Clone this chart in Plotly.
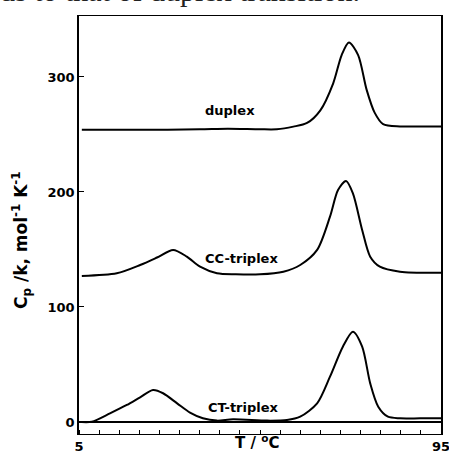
import plotly.graph_objects as go

# ---- data ----
duplex_T = [5.7, 20, 35, 42, 50, 54.2, 58.3, 61.7, 65.0, 68.2, 70.3, 72.1, 74.4, 76.5, 78.5, 80.6, 84.8, 90, 95]
duplex_Cp = [254, 254, 254.5, 255, 254.5, 254.5, 256.8, 260, 271, 294.5, 319, 330, 319, 289, 269, 259, 257, 257, 257]

cc_T = [5.7, 14.4, 20.2, 24.4, 28.4, 31.8, 35.1, 39.3, 44, 50, 55.8, 60.0, 64.2, 67.4, 69.4, 71.4, 73.1, 75.4, 77.4, 79.8, 84.8, 95]
cc_Cp = [127, 129.3, 136.5, 143, 149.6, 143.8, 135, 129.3, 128.4, 128.4, 130.7, 136.5, 149.6, 178.5, 201.7, 209.6, 198.8, 167, 143.7, 135, 130.7, 129.8]

ct_T = [5.7, 8.2, 12.7, 16.9, 20.2, 23.4, 25.9, 29.4, 32.6, 35.8, 39.3, 43.3, 51.7, 56.7, 60.0, 64.2, 67.4, 70.6, 73.1, 75.4, 77.4, 79.4, 81.8, 84.8, 89.8, 95]
ct_Cp = [0, 0.3, 7.5, 14.8, 21.5, 27.8, 25, 16.2, 8.1, 3.2, 1.2, 2.3, 1.2, 1.7, 4.6, 16.2, 39.4, 65.5, 78.5, 65.5, 33.6, 13.3, 4.6, 3.2, 3.2, 3.2]

curve_names = ["duplex", "CC-triplex", "CT-triplex"]
label_T = [42.5, 45.5, 46.0]
label_Cp = [271, 142, 13]

y_tick_vals = [0, 100, 200, 300]
y_tick_text = ["0", "100", "200", "300"]
x_tick_vals = [5, 95]
x_tick_text = ["5", "95"]

W, H = 449, 458
L, R, T, B = 79, 8, 16, 24
pw, ph = W - L - R, H - T - B

def px(xp):
    return (xp - L) / pw

def py(yp):
    return (H - B - yp) / ph

fig = go.Figure()
for tx, cy, nm in [(duplex_T, duplex_Cp, curve_names[0]),
                   (cc_T, cc_Cp, curve_names[1]),
                   (ct_T, ct_Cp, curve_names[2])]:
    fig.add_trace(go.Scatter(x=tx, y=cy, mode="lines", name=nm,
                             line=dict(color="black", width=2, shape="spline", smoothing=0.8),
                             showlegend=False, hoverinfo="skip"))

lab_font = dict(family="DejaVu Sans", size=13, color="black")
for nm, lx, ly in zip(curve_names, label_T, label_Cp):
    fig.add_annotation(x=lx, y=ly, text="<b>%s</b>" % nm, showarrow=False,
                       font=lab_font, xanchor="center", yanchor="middle")

# axis titles
fig.add_annotation(xref="paper", yref="paper", x=px(257), y=py(442),
                   text="<b>T / <sup>o</sup>C</b>", showarrow=False,
                   font=dict(family="DejaVu Sans", size=15, color="black"),
                   xanchor="center", yanchor="middle")
fig.add_annotation(xref="paper", yref="paper", x=px(21), y=py(240),
                   text="<b>C<sub>p</sub> /k, mol<sup>-1</sup> K<sup>-1</sup></b>",
                   textangle=-90, showarrow=False,
                   font=dict(family="DejaVu Sans", size=17, color="black"),
                   xanchor="center", yanchor="middle")

# clipped caption text at the very top of the page
fig.add_annotation(xref="paper", yref="paper", x=px(-2), y=py(-10),
                   text="ds to that of duplex transition.", showarrow=False,
                   font=dict(family="Liberation Serif", size=30, color="#222"),
                   xanchor="left", yanchor="middle")

fig.update_xaxes(range=[5, 95], showline=True, linecolor="black", linewidth=1,
                 mirror=True, showgrid=False, zeroline=False,
                 tickvals=x_tick_vals, ticktext=["<b>%s</b>" % t for t in x_tick_text],
                 ticks="", ticklen=0, ticklabeloverflow="allow",
                 tickfont=dict(family="DejaVu Sans", size=13, color="black"),
                 minor=dict(ticks="inside", dtick=5, tick0=5, ticklen=4,
                            tickcolor="black", tickwidth=1, showgrid=False))
fig.update_yaxes(range=[-10.43, 353.0], showline=True, linecolor="black", linewidth=1.5,
                 mirror=True, showgrid=False,
                 zeroline=True, zerolinecolor="black", zerolinewidth=1.5,
                 tickvals=y_tick_vals, ticktext=["<b>%s</b>" % t for t in y_tick_text],
                 ticks="inside", ticklen=5, tickcolor="black",
                 tickfont=dict(family="DejaVu Sans", size=13, color="black"))

fig.update_layout(width=W, height=H, margin=dict(l=L, r=R, t=T, b=B, autoexpand=False),
                  plot_bgcolor="white", paper_bgcolor="white")

fig.write_html("out.html", config={"displayModeBar": False},
               post_script="document.body.style.margin='0';document.body.style.overflow='hidden';")
